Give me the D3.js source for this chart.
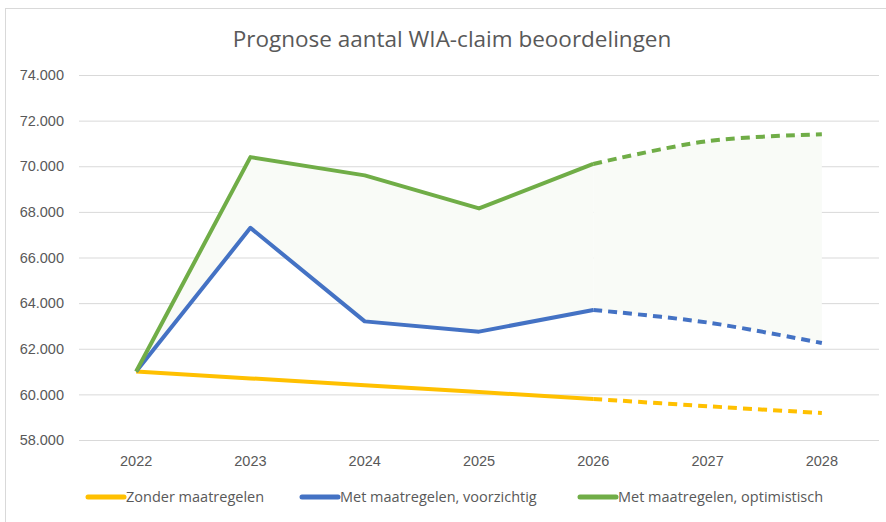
<!DOCTYPE html>
<html>
<head>
<meta charset="utf-8">
<script src="https://cdn.jsdelivr.net/npm/d3@7"></script>
<style>
  body { margin: 0; background: #fff; }
  svg { display: block; font-family: 'Open Sans', sans-serif; }
</style>
</head>
<body>
<div id="chart"></div>
<script>
'use strict';

const years = ['2022', '2023', '2024', '2025', '2026', '2027', '2028'];
const zonder = [61000, 60700, 60400, 60100, 59800, 59480, 59180];
const voorzichtig = [61000, 67300, 63200, 62750, 63700, 63150, 62250];
const optimistisch = [61000, 70400, 69600, 68150, 70100, 71100, 71400];
const yTicks = [58000, 60000, 62000, 64000, 66000, 68000, 70000, 72000, 74000];
const lastActual = 4; // 2026 is the last solid point, after that dashed

const series = [
  {name: 'Zonder maatregelen', values: zonder, color: '#ffc000'},
  {name: 'Met maatregelen, voorzichtig', values: voorzichtig, color: '#4472c4'},
  {name: 'Met maatregelen, optimistisch', values: optimistisch, color: '#70ad47'}
];

const width = 886, height = 522;
const margin = {top: 75, right: 7, bottom: 82, left: 79};
const plotW = width - margin.left - margin.right;
const plotH = height - margin.top - margin.bottom;

const svg = d3.select('#chart').append('svg')
  .attr('width', width)
  .attr('height', height);

// outer frame
svg.append('rect')
  .attr('x', 5.5).attr('y', 8.5)
  .attr('width', width).attr('height', height)
  .attr('fill', 'none')
  .attr('stroke', '#d9d9d9');

svg.append('text')
  .attr('x', 452).attr('y', 47)
  .attr('text-anchor', 'middle')
  .attr('font-size', 22.5)
  .attr('fill', '#595959')
  .text('Prognose aantal WIA-claim beoordelingen');

const plot = svg.append('g')
  .attr('transform', `translate(${margin.left},${margin.top})`);

const x = d3.scaleBand().domain(years).range([0, plotW]);
const cx = (i) => x(years[i]) + x.bandwidth() / 2;
const y = d3.scaleLinear().domain([58000, 74000]).range([plotH, 0]);

// gridlines + y labels
const yAxis = plot.append('g')
  .call(d3.axisLeft(y).tickValues(yTicks).tickSize(-plotW).tickPadding(15)
    .tickFormat((d) => d3.format(',')(d).replace(/,/g, '.')));
yAxis.select('.domain').remove();
yAxis.selectAll('line').attr('stroke', '#d9d9d9');
yAxis.selectAll('text').attr('fill', '#595959').attr('font-size', 14.5);

// x labels
const xAxis = plot.append('g')
  .attr('transform', `translate(0,${plotH})`)
  .call(d3.axisBottom(x).tickSize(0).tickPadding(16));
xAxis.select('.domain').remove();
xAxis.selectAll('text').attr('fill', '#595959').attr('font-size', 14.5);

// shaded band between voorzichtig and optimistisch
const band = years.map((d, i) => ({i, lo: voorzichtig[i], hi: optimistisch[i]}));
const areaSolid = d3.area().x((d) => cx(d.i)).y0((d) => y(d.lo)).y1((d) => y(d.hi));
const areaCurve = d3.area().x((d) => cx(d.i)).y0((d) => y(d.lo)).y1((d) => y(d.hi))
  .curve(d3.curveCatmullRom.alpha(0.5));
plot.append('path').datum(band.slice(0, lastActual + 1))
  .attr('d', areaSolid).attr('fill', '#f9fbf7');
plot.append('path').datum(band.slice(lastActual))
  .attr('d', areaCurve).attr('fill', '#f9fbf7');

const lineSolid = d3.line().x((d) => cx(d.i)).y((d) => y(d.v));
const lineCurve = d3.line().x((d) => cx(d.i)).y((d) => y(d.v))
  .curve(d3.curveCatmullRom.alpha(0.5));

series.forEach((s) => {
  const pts = s.values.map((v, i) => ({i, v}));
  plot.append('path').datum(pts.slice(0, lastActual + 1))
    .attr('d', lineSolid)
    .attr('fill', 'none').attr('stroke', s.color)
    .attr('stroke-width', 4).attr('stroke-linejoin', 'round');
  plot.append('path').datum(pts.slice(lastActual))
    .attr('d', lineCurve)
    .attr('fill', 'none').attr('stroke', s.color)
    .attr('stroke-width', 4).attr('stroke-dasharray', '9,6');
});

// legend
const legendX = [88, 302, 580];
const legend = svg.append('g').attr('transform', 'translate(0,497)');
series.forEach((s, i) => {
  legend.append('line')
    .attr('x1', legendX[i]).attr('x2', legendX[i] + 36)
    .attr('stroke', s.color).attr('stroke-width', 5).attr('stroke-linecap', 'round');
  legend.append('text')
    .attr('x', legendX[i] + 38).attr('dy', '0.35em')
    .attr('font-size', 14.5).attr('fill', '#595959')
    .text(s.name);
});
</script>
</body>
</html>
